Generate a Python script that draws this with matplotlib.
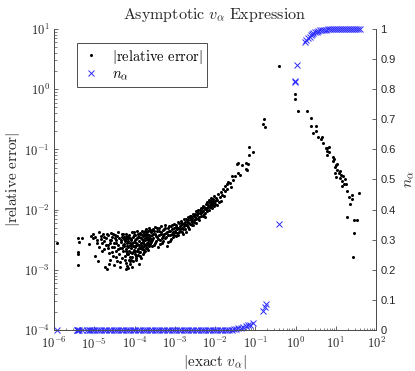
import numpy as np
import matplotlib
matplotlib.use('Agg')
import matplotlib.pyplot as plt
from matplotlib.ticker import LogLocator, FuncFormatter, NullFormatter
from matplotlib.lines import Line2D

plt.rcParams['mathtext.fontset'] = 'cm'
plt.rcParams['font.family'] = ['Liberation Sans', 'DejaVu Sans']

# ---- |relative error| series (log10 of |exact v_alpha|, log10 of |relative error|) ----
err_log_v = [
    # sparse left
    -5.93, -5.41, -5.37, -5.40, -5.41, -5.40, -5.30, -5.12, -5.08, -5.04, -4.98, -4.94,
    -4.87, -4.98, -4.90, -4.92, -4.88, -5.02,
    # left of core
    -4.84, -4.81, -4.79, -4.77, -4.75, -4.73, -4.71, -4.69, -4.67, -4.66, -4.64, -4.62,
    -4.60, -4.59, -4.57, -4.55, -4.53, -4.52, -4.50, -4.48, -4.47, -4.45, -4.44, -4.42,
    -4.41, -4.39, -4.38, -4.36, -4.35, -4.33, -4.32, -4.31, -4.29, -4.28, -4.27, -4.46,
    -4.58, -4.37, -4.30,
    -4.83, -4.80, -4.76, -4.72, -4.68, -4.65, -4.61, -4.56, -4.54, -4.51, -4.49, -4.43,
    -4.40, -4.34, -4.30, -4.28, -4.63, -4.45,
    # core
    -4.26, -4.25, -4.24, -4.23, -4.22, -4.21, -4.20, -4.19, -4.18, -4.17, -4.16, -4.15,
    -4.14, -4.13, -4.12, -4.11, -4.10, -4.09, -4.08, -4.07, -4.06, -4.05, -4.04, -4.03,
    -4.02, -4.01, -4.00, -3.99, -3.98, -3.97, -3.96, -3.95, -3.94, -3.93, -3.92, -3.91,
    -3.90, -3.89, -3.88, -3.87, -3.86, -3.85, -3.84, -3.83, -3.82, -3.81, -3.80, -3.79,
    -3.78, -3.77, -3.76, -3.75, -3.74, -3.73, -3.72, -3.71, -3.70, -3.69, -3.68, -3.67,
    -3.66, -3.65, -3.64, -3.63, -3.62, -3.61, -3.60, -3.58, -3.57, -3.56,
    -4.24, -4.22, -4.20, -4.18, -4.16, -4.14, -4.12, -4.10, -4.08, -4.06, -4.04, -4.02,
    -4.00, -3.98, -3.96, -3.94, -3.92, -3.90, -3.88, -3.86, -3.84, -3.82, -3.80, -3.78,
    -3.76, -3.74, -3.72, -3.70, -3.68, -3.66, -3.64, -3.62, -4.15, -4.05, -4.21,
    -4.255, -4.235, -4.215, -4.195, -4.175, -4.155, -4.135, -4.115, -4.095, -4.075, -4.055, -4.035,
    -4.015, -3.995, -3.975, -3.955, -3.935, -3.915, -3.895, -3.875, -3.855, -3.835, -3.815, -3.795,
    -3.775, -3.755, -3.735, -3.715, -3.695, -3.675, -3.655, -3.635, -3.615, -3.595, -3.575, -3.555,
    # rising band
    -3.55, -3.53, -3.52, -3.50, -3.48, -3.47, -3.45, -3.43, -3.42, -3.40, -3.38, -3.36,
    -3.34, -3.33, -3.31, -3.29, -3.27, -3.25, -3.24, -3.22, -3.20, -3.18, -3.16, -3.14,
    -3.12, -3.10, -3.08, -3.06, -3.04, -3.02, -3.00, -2.98, -2.96, -2.94, -2.92, -2.90,
    -2.88, -2.86, -2.84, -2.82, -2.80, -2.78, -2.76, -2.74, -2.72, -2.70, -2.68, -2.66,
    -2.64, -2.62, -2.60, -2.58, -2.56, -2.54, -2.52, -2.50, -2.48, -2.46, -2.44, -2.42,
    -2.40, -2.38, -2.36, -2.34, -2.32, -2.30, -2.28, -2.26, -2.24, -2.22, -2.20, -2.18,
    -2.16, -2.14, -2.12, -2.10, -2.08, -2.06, -2.04, -2.02, -2.00,
    -3.54, -3.51, -3.49, -3.46, -3.44, -3.41, -3.39, -3.37, -3.35, -3.32, -3.30, -3.28,
    -3.26, -3.23, -3.21, -3.19, -3.17, -3.15, -3.13, -3.11, -3.09, -3.07, -3.05, -3.03,
    -3.01, -2.99, -2.97, -2.95, -2.93, -2.91, -2.89, -2.87, -2.85, -2.83, -2.81, -2.79,
    -2.77, -2.75, -2.73, -2.71, -2.69, -2.67, -2.65, -2.63, -2.61, -2.59, -2.57, -2.55,
    -2.53, -2.51, -2.49, -2.47, -2.45, -2.43, -2.41, -2.39, -2.37, -2.35, -2.33, -2.31,
    -2.29, -2.27, -2.25, -2.23, -2.21, -2.19, -2.17, -2.15, -2.13, -2.11, -2.09, -2.07,
    -2.05, -2.03, -2.01,
    -1.98, -1.96, -1.94, -1.92, -1.90, -1.88, -1.86, -1.84, -1.82, -1.80, -1.78, -1.76,
    -1.74, -1.71, -1.69, -1.67, -1.63, -1.60, -1.59, -1.55, -1.50, -1.46, -1.44, -1.42,
    -1.38, -1.34, -1.23, -1.24, -1.21, -1.19, -1.15, -1.155, -1.05,
    # peak
    -0.775, -0.815, -0.75, -0.40,
    # falling branch
    -0.02, -0.02, 0.062, 0.293, 0.378, 0.392, 0.517, 0.517, 0.442, 0.559, 0.651, 0.634,
    0.676, 0.765, 0.795, 0.78, 0.83, 0.79, 0.84, 0.939, 0.957, 0.939, 1.039, 1.006,
    0.981, 1.023, 1.113, 0.981, 1.073, 1.006, 1.123, 1.172, 1.222, 1.106, 1.155, 1.213,
    1.255, 1.147, 1.287, 1.322, 1.396, 1.396, 1.578, 1.346, 1.272, 1.453, 1.535, 1.453,
    1.436,
]
err_log_e = [
    -2.56, -2.48, -2.54, -2.70, -2.74, -2.92, -2.48, -2.57, -2.44, -2.48, -2.45, -2.50,
    -2.37, -2.77, -2.85, -2.55, -2.62, -2.40,
    -2.44, -2.56, -2.40, -2.65, -2.52, -2.96, -2.47, -2.99, -2.58, -2.43, -2.72, -2.51,
    -2.84, -2.39, -2.62, -2.46, -2.77, -2.55, -2.92, -2.42, -2.68, -2.50, -2.85, -2.58,
    -2.37, -2.74, -2.47, -2.63, -2.95, -2.53, -2.41, -2.80, -2.58, -2.69, -2.49, -2.56,
    -2.50, -2.87, -2.45,
    -2.49, -2.68, -2.45, -2.58, -2.41, -2.63, -2.56, -2.70, -2.41, -2.62, -2.48, -2.44,
    -2.66, -2.50, -2.63, -2.40, -2.90, -2.79,
    -2.45, -2.61, -2.77, -2.52, -2.88, -2.40, -2.68, -2.56, -2.94, -2.47, -2.73, -2.62,
    -2.83, -2.43, -2.55, -2.70, -2.91, -2.50, -2.64, -2.38, -2.79, -2.58, -2.46, -2.86,
    -2.67, -2.53, -2.74, -2.42, -2.60, -2.81, -2.49, -2.69, -2.36, -2.57, -2.76, -2.45,
    -2.63, -2.90, -2.52, -2.71, -2.40, -2.59, -2.48, -2.80, -2.66, -2.35, -2.54, -2.73,
    -2.44, -2.61, -2.38, -2.51, -2.69, -2.42, -2.58, -2.33, -2.48, -2.64, -2.40, -2.55,
    -2.36, -2.50, -2.61, -2.31, -2.44, -2.57, -2.38, -2.49, -2.34, -2.60,
    -2.50, -2.65, -2.45, -2.72, -2.52, -2.60, -2.78, -2.47, -2.84, -2.55, -2.70, -2.42,
    -2.62, -2.51, -2.77, -2.59, -2.41, -2.70, -2.46, -2.64, -2.55, -2.43, -2.62, -2.50,
    -2.67, -2.47, -2.37, -2.56, -2.46, -2.59, -2.42, -2.52, -2.97, -2.95, -2.98,
    -2.57, -2.83, -2.49, -2.74, -2.60, -2.44, -2.68, -2.86, -2.58, -2.49, -2.72, -2.61,
    -2.38, -2.69, -2.55, -2.84, -2.47, -2.66, -2.58, -2.39, -2.77, -2.62, -2.49, -2.41,
    -2.70, -2.57, -2.35, -2.63, -2.43, -2.51, -2.67, -2.48, -2.34, -2.54, -2.42, -2.50,
    -2.33, -2.48, -2.58, -2.40, -2.29, -2.52, -2.36, -2.45, -2.62, -2.31, -2.42, -2.50,
    -2.28, -2.37, -2.56, -2.44, -2.33, -2.26, -2.48, -2.39, -2.60, -2.30, -2.43, -2.35,
    -2.52, -2.27, -2.40, -2.32, -2.46, -2.24, -2.37, -2.29, -2.44, -2.33, -2.21, -2.38,
    -2.27, -2.35, -2.19, -2.30, -2.41, -2.24, -2.16, -2.33, -2.26, -2.20, -2.13, -2.29,
    -2.22, -2.10, -2.17, -2.26, -2.14, -2.07, -2.20, -2.12, -2.03, -2.16, -2.09, -2.00,
    -2.13, -2.05, -1.97, -2.10, -2.02, -1.94, -2.07, -1.99, -2.13, -1.91, -2.03, -1.95,
    -1.88, -2.00, -1.92, -1.85, -1.97, -1.89, -1.82, -1.94, -1.86,
    -2.41, -2.36, -2.55, -2.44, -2.30, -2.49, -2.36, -2.57, -2.41, -2.47, -2.34, -2.52,
    -2.40, -2.31, -2.46, -2.37, -2.53, -2.28, -2.42, -2.35, -2.49, -2.26, -2.38, -2.31,
    -2.43, -2.35, -2.25, -2.39, -2.30, -2.43, -2.22, -2.32, -2.26, -2.38, -2.22, -2.33,
    -2.28, -2.20, -2.37, -2.15, -2.25, -2.18, -2.32, -2.14, -2.24, -2.11, -2.20, -2.26,
    -2.10, -2.17, -2.08, -2.22, -2.04, -2.14, -2.06, -2.18, -2.01, -2.06, -1.98, -2.11,
    -2.02, -1.95, -2.05, -1.97, -1.88, -2.00, -1.93, -1.84, -1.96, -1.89, -1.81, -1.92,
    -1.85, -1.78, -1.90,
    -1.80, -1.92, -1.84, -1.74, -1.88, -1.79, -1.70, -1.85, -1.76, -1.66, -1.78, -1.69,
    -1.61, -1.57, -1.66, -1.54, -1.56, -1.62, -1.45, -1.51, -1.44, -1.25, -1.40, -1.23,
    -1.43, -1.26, -1.23, -1.33, -1.35, -1.25, -0.96, -1.10, -1.05,
    -0.49, -0.58, -0.63, 0.385,
    -0.075, -0.163, -0.357, -0.357, -0.483, -0.611, -0.611, -0.694, -0.723, -0.799, -0.789, -0.827,
    -0.899, -0.977, -0.977, -1.027, -0.96, -1.088, -1.05, -1.121, -1.159, -1.198, -1.243, -1.264,
    -1.287, -1.347, -1.364, -1.392, -1.397, -1.453, -1.425, -1.442, -1.487, -1.475, -1.53, -1.575,
    -1.58, -1.603, -1.686, -1.786, -1.762, -1.829, -1.729, -1.907, -2.118, -2.173, -2.173, -2.384,
    -2.787,
]

# ---- n_alpha series (log10 of |exact v_alpha|, n_alpha) ----
n_log_v = [
    -5.93, -5.44, -5.42, -5.40, -5.38, -5.31, -5.18, -5.14, -5.11,
    -5.06, -5.00, -4.94, -4.88, -4.82, -4.76, -4.70, -4.64, -4.58, -4.52, -4.46, -4.40,
    -4.34, -4.28, -4.22, -4.16, -4.10, -4.04, -3.98, -3.92, -3.86, -3.80, -3.74, -3.68,
    -3.62, -3.56, -3.50, -3.44, -3.38, -3.32, -3.26, -3.20, -3.14, -3.08, -3.02, -2.96,
    -2.90, -2.84, -2.78, -2.72, -2.66, -2.60, -2.54, -2.48, -2.42, -2.36, -2.30, -2.24,
    -2.18, -2.12, -2.06, -2.00, -1.94, -1.88, -1.82, -1.76, -1.70, -1.64, -1.58,
    -1.53, -1.48, -1.42, -1.36, -1.30, -1.24, -1.18, -1.12, -1.06, -0.80, -0.77, -0.74,
    -0.403, -0.015, -0.005, 0.045,
    0.236, 0.27, 0.318, 0.35, 0.378, 0.41, 0.442, 0.48, 0.527, 0.57, 0.609, 0.65,
    0.70, 0.75, 0.80, 0.85, 0.90, 0.95, 1.00, 1.05, 1.10, 1.15, 1.20, 1.25,
    1.30, 1.35, 1.40, 1.45, 1.50, 1.55, 1.60,
]
n_vals = [
    0, 0, 0, 0, 0, 0, 0, 0, 0,
    0, 0, 0, 0, 0, 0, 0, 0, 0, 0, 0, 0,
    0, 0, 0, 0, 0, 0, 0, 0, 0, 0, 0, 0,
    0, 0, 0, 0, 0, 0, 0, 0, 0, 0, 0, 0,
    0, 0, 0, 0, 0, 0, 0, 0, 0, 0, 0, 0,
    0, 0, 0, 0, 0, 0, 0, 0, 0, 0, 0.001,
    0.002, 0.004, 0.006, 0.008, 0.010, 0.012, 0.015, 0.018, 0.022, 0.064, 0.076, 0.085,
    0.351, 0.828, 0.823, 0.880,
    0.958, 0.965, 0.969, 0.975, 0.980, 0.983, 0.986, 0.989, 0.991, 0.994, 0.996, 0.997,
    0.998, 0.998, 0.999, 0.999, 0.999, 1.0, 1.0, 1.0, 1.0, 1.0, 1.0, 1.0,
    1.0, 1.0, 1.0, 1.0, 1.0, 1.0, 1.0,
]

x_err = np.power(10.0, np.array(err_log_v))
y_err = np.power(10.0, np.array(err_log_e))
x_n = np.power(10.0, np.array(n_log_v))
y_n = np.array(n_vals)

axis_col = '#4d4d4d'
text_col = '#262626'
blue = '#2b2bff'

fig = plt.figure(figsize=(4.15, 3.71), dpi=100)
ax = fig.add_axes([54 / 415, 41 / 371, 322 / 415, 301 / 371])
ax2 = ax.twinx()

ax.plot(x_err, y_err, linestyle='none', marker='o', ms=2.2, mfc='black', mec='none')
ax.set_xscale('log')
ax.set_yscale('log')
ax.set_xlim(1e-6, 1e2)
ax.set_ylim(1e-4, 1e1)

ax2.plot(x_n, y_n, linestyle='none', marker='x', ms=5, mew=0.7, color=blue, clip_on=False)
ax2.set_ylim(0, 1)
ax2.set_yticks(np.arange(0, 1.01, 0.1))
ax2.set_yticklabels(['0', '0.1', '0.2', '0.3', '0.4', '0.5', '0.6', '0.7', '0.8', '0.9', '1'])

logfmt = FuncFormatter(lambda v, p: r'$\mathsf{10^{%d}}$' % int(round(np.log10(v))))
ax.xaxis.set_major_locator(LogLocator(base=10, numticks=20))
ax.xaxis.set_minor_locator(LogLocator(base=10, subs=np.arange(2, 10), numticks=20))
ax.yaxis.set_major_locator(LogLocator(base=10, numticks=20))
ax.yaxis.set_minor_locator(LogLocator(base=10, subs=np.arange(2, 10), numticks=20))
ax.xaxis.set_major_formatter(logfmt)
ax.yaxis.set_major_formatter(logfmt)
ax.xaxis.set_minor_formatter(NullFormatter())
ax.yaxis.set_minor_formatter(NullFormatter())

for a in (ax, ax2):
    a.spines['top'].set_visible(False)
    for s in ('left', 'right', 'bottom'):
        a.spines[s].set_color(axis_col)
        a.spines[s].set_linewidth(0.7)
    a.set_facecolor('none')

ax.tick_params(axis='both', which='both', direction='in', colors=axis_col, labelcolor=text_col,
               labelsize=9, top=False, right=False)
ax.tick_params(axis='both', which='major', length=3, width=0.6)
ax.tick_params(axis='both', which='minor', length=1.8, width=0.5)
ax.tick_params(axis='x', pad=4)
ax.tick_params(axis='y', pad=3)
ax2.tick_params(axis='y', which='both', direction='in', colors=axis_col, labelcolor=text_col,
                labelsize=8, length=3, width=0.6, pad=3, left=False)

ax.set_title(r'$\mathrm{Asymptotic}\ v_\alpha\ \mathrm{Expression}$', fontsize=11.5,
             color=text_col, pad=7)
ax.set_xlabel(r'$|\mathrm{exact}\ v_\alpha|$', fontsize=11, color=text_col)
ax.set_ylabel(r'$|\mathrm{relative\ error}|$', fontsize=11, color=text_col)
ax2.set_ylabel(r'$n_\alpha$', fontsize=11, color=text_col, rotation=90)
ax.xaxis.set_label_coords(0.5, -0.078)
ax.yaxis.set_label_coords(-0.100, 0.5)
ax2.yaxis.set_label_coords(1.080, 0.5)

handles = [Line2D([], [], linestyle='none', marker='o', ms=2.2, mfc='black', mec='none'),
           Line2D([], [], linestyle='none', marker='x', ms=5, mew=0.7, color=blue)]
leg = ax2.legend(handles, [r'$|\mathrm{relative\ error}|$', r'$n_\alpha$'],
                 loc='upper left', bbox_to_anchor=(0.071, 0.953), borderaxespad=0,
                 fontsize=10.5, fancybox=False, framealpha=1, edgecolor=axis_col,
                 handlelength=1.4, handletextpad=0.7, borderpad=0.3, labelspacing=0.12)
leg.get_frame().set_linewidth(0.7)

fig.savefig('out.png', dpi=100)
